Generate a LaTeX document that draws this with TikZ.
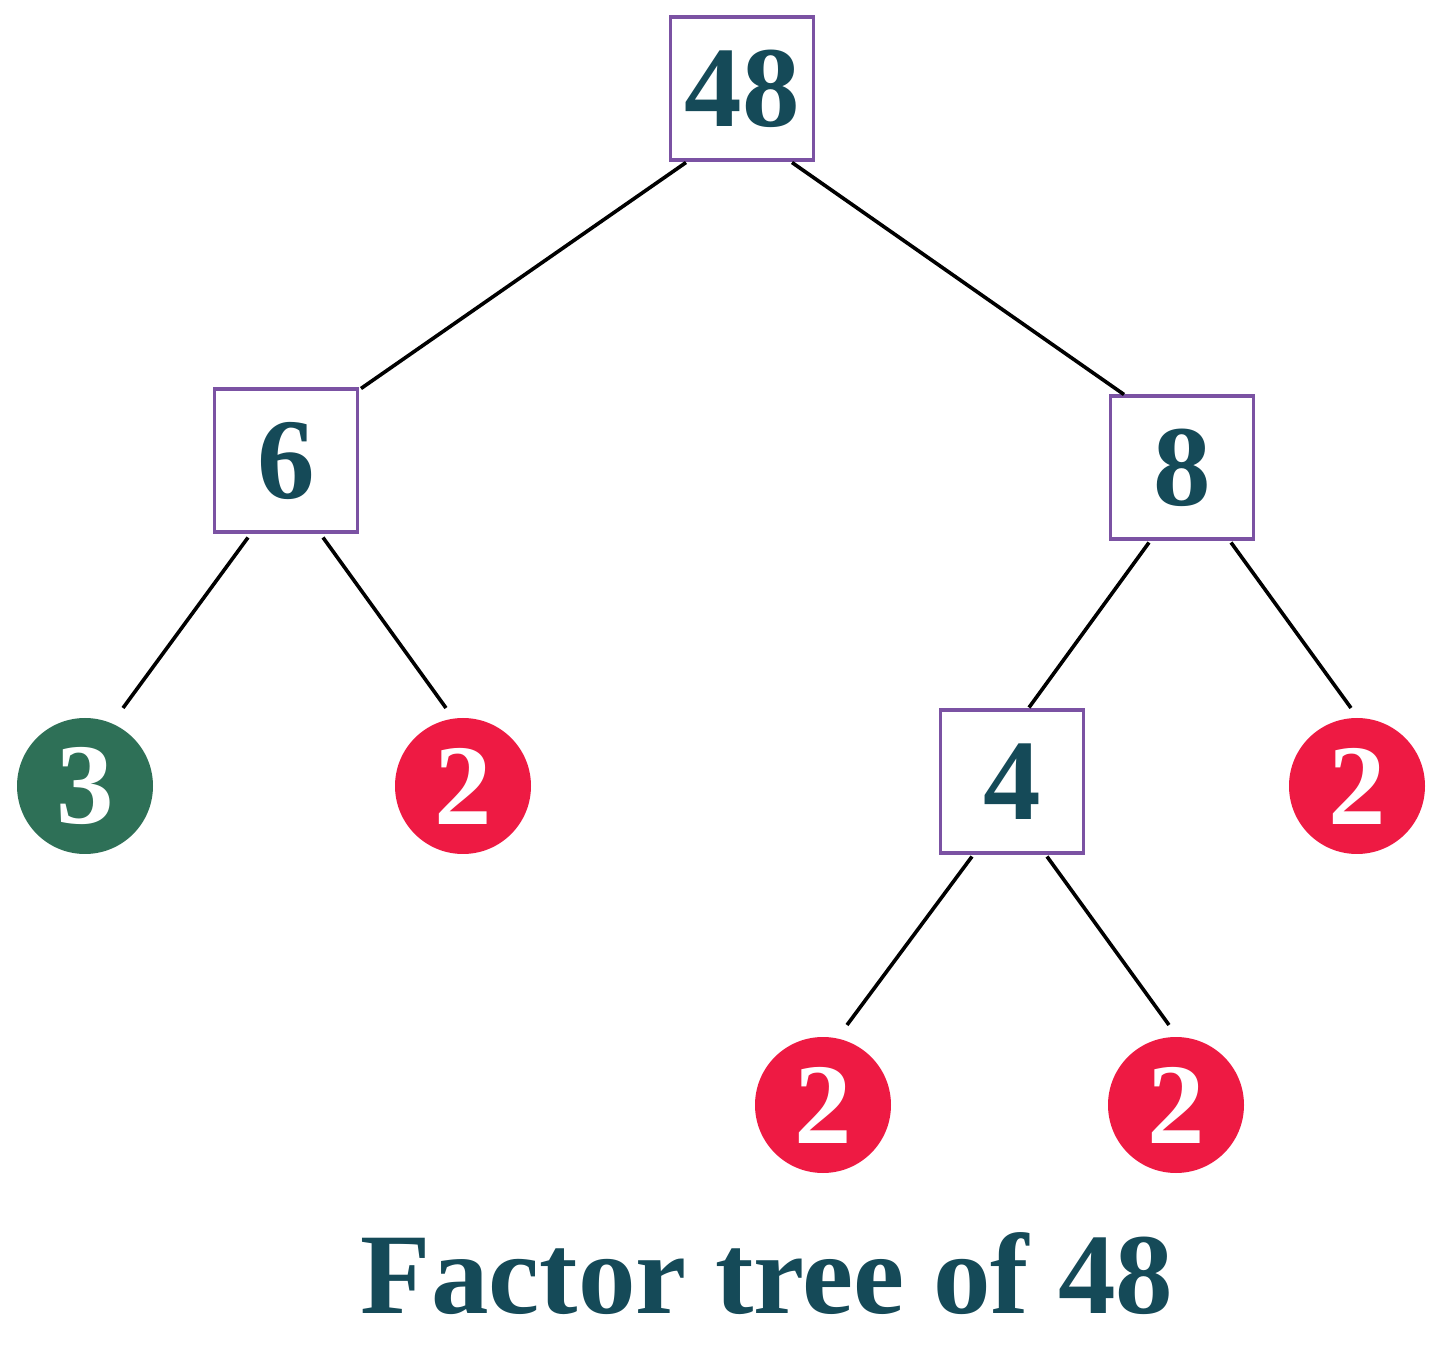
\documentclass[tikz,border=0pt]{standalone}
\usepackage{fontspec}
\setmainfont{Liberation Serif}
\usetikzlibrary{calc}
\definecolor{txt}{HTML}{154A58}
\definecolor{boxc}{HTML}{7B52A3}
\definecolor{redc}{HTML}{EE1A43}
\definecolor{greenc}{HTML}{2E7057}
\tikzset{
  numbox/.style={draw=boxc, line width=1.6pt, fill=white, minimum size=71.5pt, inner sep=0pt,
    text=txt, font=\fontsize{57.5pt}{60pt}\selectfont\bfseries},
  leafc/.style={circle, fill=#1, minimum size=68pt, inner sep=0pt, text=white,
    font=\fontsize{57.5pt}{60pt}\selectfont\bfseries},
  edge/.style={draw=black, line width=1.8pt},
  titlef/.style={text=txt, inner sep=0pt, font=\fontsize{57.5pt}{60pt}\selectfont\bfseries}
}
\begin{document}
\begin{tikzpicture}[x=0.5pt, y=-0.5pt]
\useasboundingbox (0,0) rectangle (1448,1353);
\node[numbox] (n48) at (742,88.5) {48};
\node[numbox] (n6) at (286,460.5) {6};
\node[numbox] (n8) at (1182,467.5) {8};
\node[numbox] (n4) at (1012,781.5) {4};
\node[leafc=greenc] (c3) at (85,786) {3};
\node[leafc=redc] (c2a) at (463,786) {2};
\node[leafc=redc] (c2b) at (1357,786) {2};
\node[leafc=redc] (c2c) at (823,1105) {2};
\node[leafc=redc] (c2d) at (1176,1105) {2};
\draw[edge] ($(n48)+(-56,74)$) -- ($(n6)+(75,-72)$);
\draw[edge] ($(n48)+(50,74)$) -- ($(n8)+(-58,-73)$);
\draw[edge] ($(n6)+(-38,77)$) -- ($(c3)+(38,-78)$);
\draw[edge] ($(n6)+(37,77)$) -- ($(c2a)+(-17,-78)$);
\draw[edge] ($(n8)+(-33,75)$) -- ($(n4)+(17,-74)$);
\draw[edge] ($(n8)+(49,75)$) -- ($(c2b)+(-6,-78)$);
\draw[edge] ($(n4)+(-40,75)$) -- ($(c2c)+(24,-80)$);
\draw[edge] ($(n4)+(35,75)$) -- ($(c2d)+(-7,-80)$);
\node[titlef, anchor=base] (title) at (767,1313) {Factor tree of 48};
\end{tikzpicture}
\end{document}
